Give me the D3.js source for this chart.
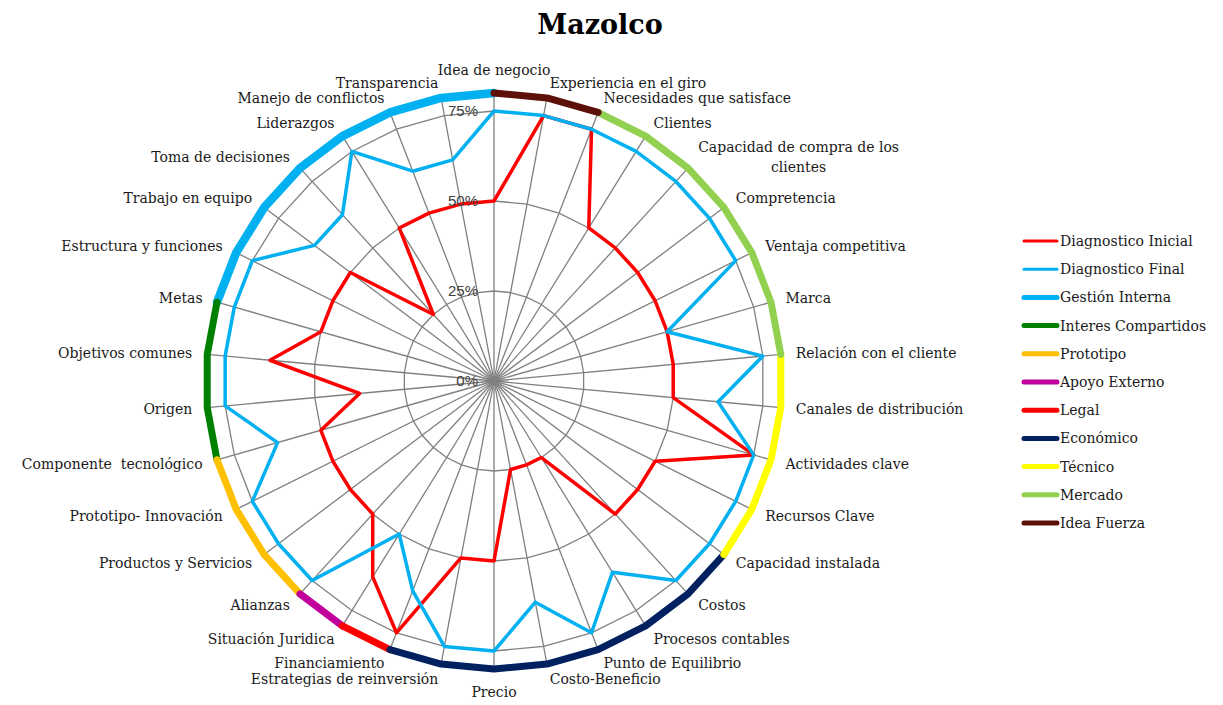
<!DOCTYPE html>
<html>
<head>
<meta charset="utf-8">
<script src="https://cdn.jsdelivr.net/npm/d3@7"></script>
<style>
  body { margin: 0; background: #fff; }
  text { font-family: "DejaVu Serif", serif; }
</style>
</head>
<body>
<script>
// Categories, clockwise from the top
const categories = [
  "Idea de negocio", "Experiencia en el giro", "Necesidades que satisface", "Clientes",
  "Capacidad de compra de los clientes", "Compretencia", "Ventaja competitiva", "Marca",
  "Relación con el cliente", "Canales de distribución", "Actividades clave", "Recursos Clave",
  "Capacidad instalada", "Costos", "Procesos contables", "Punto de Equilibrio",
  "Costo-Beneficio", "Precio", "Estrategias de reinversión", "Financiamiento",
  "Situación Juridica", "Alianzas", "Productos y Servicios", "Prototipo- Innovación",
  "Componente  tecnológico", "Origen", "Objetivos comunes", "Metas",
  "Estructura y funciones", "Trabajo en equipo", "Toma de decisiones", "Liderazgos",
  "Manejo de conflictos", "Transparencia"
];

// Diagnostic values (%)
const diagnosticoInicial = [50, 75, 75, 50, 50, 50, 50, 50, 50, 50, 75, 50, 50, 50, 25, 25, 25,
                            50, 50, 75, 64, 50, 50, 50, 50, 37.5, 62.5, 50, 50, 50, 25, 50, 50, 50];
const diagnosticoFinal = [75, 75, 75, 75, 75, 75, 75, 50, 75, 62.5, 75, 75, 75, 75, 62.5, 75, 62.5,
                          75, 75, 62.5, 50, 75, 75, 75, 62.5, 75, 75, 75, 75, 62.5, 62.5, 75, 62.5, 62.5];

// Area groups drawn on the outer ring (category index ranges, end may wrap)
const groupNames = ["Gestión Interna", "Interes Compartidos", "Prototipo", "Apoyo Externo",
                    "Legal", "Económico", "Técnico", "Mercado", "Idea Fuerza"];
const groupColors = ["#00b0f0", "#008000", "#ffc000", "#c0009a", "#ff0000", "#002060",
                     "#ffff00", "#92d050", "#5c1008"];
const groupFrom = [27, 24, 21, 20, 19, 12, 8, 2, 0];
const groupTo = [34, 27, 24, 21, 20, 19, 12, 8, 2];
const groupValue = 80;

const tickValues = [0, 25, 50, 75];
const maxValue = 80;

// Setup
const width = 1223;
const height = 705;
const cx = 494;
const cy = 381;
const maxR = 288;
const n = categories.length;

const svg = d3.select("body").append("svg")
  .attr("width", width)
  .attr("height", height);

const rScale = d3.scaleLinear().domain([0, maxValue]).range([0, maxR]);
const aScale = d3.scaleLinear().domain([0, n]).range([0, 2 * Math.PI]);

const plot = svg.append("g").attr("transform", `translate(${cx},${cy})`);

// Grid polygons
const ringLine = d3.lineRadial()
  .angle((d, i) => aScale(i))
  .radius(d => rScale(d))
  .curve(d3.curveLinearClosed);

plot.selectAll(".ring")
  .data([25, 50, 75, maxValue])
  .join("path")
  .attr("class", "ring")
  .attr("d", v => ringLine(d3.range(n).map(() => v)))
  .attr("fill", "none")
  .attr("stroke", "#808080")
  .attr("stroke-width", 1.3);

// Spokes
plot.selectAll(".spoke")
  .data(categories)
  .join("line")
  .attr("class", "spoke")
  .attr("x1", 0).attr("y1", 0)
  .attr("x2", (d, i) => rScale(maxValue) * Math.sin(aScale(i)))
  .attr("y2", (d, i) => -rScale(maxValue) * Math.cos(aScale(i)))
  .attr("stroke", "#808080")
  .attr("stroke-width", 1.3);

// Outer group segments
const segLine = d3.lineRadial()
  .angle(d => aScale(d))
  .radius(() => rScale(groupValue));

plot.selectAll(".group")
  .data(groupNames)
  .join("path")
  .attr("class", "group")
  .attr("d", (d, g) => segLine(d3.range(groupFrom[g], groupTo[g] + 1)))
  .attr("fill", "none")
  .attr("stroke", (d, g) => groupColors[g])
  .attr("stroke-width", (d, g) => g === 0 ? 8.5 : 7)
  .attr("stroke-linecap", "round")
  .attr("stroke-linejoin", "round");

// Diagnostic series
const seriesLine = d3.lineRadial()
  .angle((d, i) => aScale(i))
  .radius(d => rScale(d))
  .curve(d3.curveLinearClosed);

plot.append("path")
  .attr("d", seriesLine(diagnosticoInicial))
  .attr("fill", "none")
  .attr("stroke", "#ff0000")
  .attr("stroke-width", 3.5)
  .attr("stroke-linejoin", "round");

plot.append("path")
  .attr("d", seriesLine(diagnosticoFinal))
  .attr("fill", "none")
  .attr("stroke", "#00b0f0")
  .attr("stroke-width", 3.5)
  .attr("stroke-linejoin", "round");

// Percent tick labels
plot.selectAll(".tick")
  .data(tickValues)
  .join("text")
  .attr("class", "tick")
  .attr("x", -16)
  .attr("y", d => -rScale(d))
  .attr("dy", "0.35em")
  .attr("text-anchor", "end")
  .style("font-family", "'Liberation Sans', Arial, sans-serif")
  .style("font-size", "15px")
  .attr("fill", "#404040")
  .text(d => d + "%");

// Category labels
const labelGap = 15;
const maxLabelWidth = 225;
categories.forEach((name, i) => {
  const a = aScale(i);
  const s = Math.sin(a), c = Math.cos(a);
  const R = maxR + labelGap + (Math.abs(s) < 0.1 ? 8 : 0);
  const x = R * s;
  const y = -R * c;
  const anchor = Math.abs(s) < 0.1 ? "middle" : (s > 0 ? "start" : "end");

  const t = plot.append("text")
    .attr("x", x)
    .attr("y", y)
    .attr("dy", "0.35em")
    .attr("text-anchor", anchor)
    .style("font-size", "14px")
    .attr("fill", "#1a1a1a")
    .style("white-space", "pre")
    .text(name);

  // wrap long labels into centred lines
  if (t.node().getComputedTextLength() > maxLabelWidth) {
    const words = name.split(" ");
    const lines = [];
    let cur = [];
    t.text("");
    words.forEach(w => {
      t.text(cur.concat(w).join(" "));
      if (t.node().getComputedTextLength() > maxLabelWidth && cur.length) {
        lines.push(cur.join(" "));
        cur = [w];
      } else {
        cur.push(w);
      }
    });
    lines.push(cur.join(" "));
    t.text(lines[0]);
    const blockW = t.node().getComputedTextLength();
    const mid = anchor === "start" ? x + blockW / 2 : anchor === "end" ? x - blockW / 2 : x;
    const lh = 20;
    t.text("").attr("text-anchor", "middle").attr("dy", null);
    lines.forEach((ln, k) => {
      t.append("tspan")
        .attr("x", mid)
        .attr("y", y + (k - (lines.length - 1) / 2) * lh)
        .attr("dy", "0.35em")
        .text(ln);
    });
  }
});

// Title
svg.append("text")
  .attr("x", 600)
  .attr("y", 25)
  .attr("dy", "0.35em")
  .attr("text-anchor", "middle")
  .style("font-size", "27px")
  .style("font-weight", "bold")
  .attr("fill", "#000")
  .text("Mazolco");

// Legend
const legendNames = ["Diagnostico Inicial", "Diagnostico Final"].concat(groupNames);
const legendColors = ["#ff0000", "#00b0f0"].concat(groupColors);
const legend = svg.append("g").attr("transform", "translate(1024,241)");

const legendItems = legend.selectAll("g")
  .data(legendNames)
  .join("g")
  .attr("transform", (d, i) => `translate(0, ${i * 28.2})`);

legendItems.append("line")
  .attr("x1", 0).attr("x2", 33)
  .attr("y1", 0).attr("y2", 0)
  .attr("stroke", (d, i) => legendColors[i])
  .attr("stroke-width", (d, i) => i < 2 ? 3 : 5)
  .attr("stroke-linecap", "round");

legendItems.append("text")
  .attr("x", 36)
  .attr("y", 0)
  .attr("dy", "0.35em")
  .style("font-size", "14px")
  .attr("fill", "#1a1a1a")
  .text(d => d);
</script>
</body>
</html>
